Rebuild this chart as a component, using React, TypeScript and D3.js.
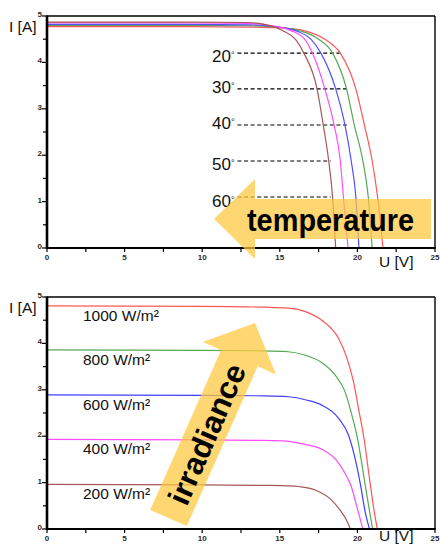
import React, { useEffect } from "react";
import * as d3 from "d3";

const W = 442;
const H = 545;

const xTicks = [0, 5, 10, 15, 20, 25];
const yTicks = [0, 1, 2, 3, 4, 5];

// ---- Top panel: temperature dependence ----
const tempLabels = ["20", "30", "40", "50", "60"];
const tempColors = ["#ff5555", "#55a855", "#5050ff", "#ff4cff", "#a65858"];
const temp20: [number, number][] = [[0, 4.77], [8, 4.77], [13, 4.76], [14.5, 4.75], [15.6, 4.73], [16.6, 4.68], [17.9, 4.5], [18.9, 4.2], [19.9, 3.43], [20.45, 2.65], [20.95, 1.88], [21.3, 1.1], [21.65, 0]];
const temp30: [number, number][] = [[0, 4.8], [8, 4.8], [13, 4.79], [14.5, 4.77], [15.4, 4.74], [16.3, 4.68], [17.5, 4.5], [18.4, 4.2], [19.3, 3.43], [19.8, 2.65], [20.35, 1.88], [20.7, 1.1], [20.95, 0]];
const temp40: [number, number][] = [[0, 4.82], [8, 4.82], [13, 4.81], [14.5, 4.78], [15.2, 4.75], [16.05, 4.68], [17.0, 4.5], [17.65, 4.2], [18.6, 3.43], [19.2, 2.65], [19.6, 1.88], [19.9, 1.1], [20.1, 0]];
const temp50: [number, number][] = [[0, 4.85], [8, 4.85], [13, 4.84], [14.3, 4.8], [15.0, 4.76], [15.75, 4.68], [16.6, 4.5], [17.1, 4.2], [17.9, 3.43], [18.5, 2.65], [18.9, 1.88], [19.1, 1.1], [19.4, 0]];
const temp60: [number, number][] = [[0, 4.87], [8, 4.87], [13, 4.86], [14.0, 4.82], [14.6, 4.77], [15.2, 4.68], [16.0, 4.5], [16.55, 4.2], [17.4, 3.43], [17.8, 2.65], [18.15, 1.88], [18.4, 1.1], [18.6, 0]];
const tempCurves = [temp20, temp30, temp40, temp50, temp60];
const tempDashI = [4.2, 3.43, 2.65, 1.875, 1.1];
const tempDashEndU = [18.86, 19.38, 19.32, 18.28, 18.28];
const tempDashStartU = 12.27;
const tempLabelI = [4.01, 3.34, 2.56, 1.68, 0.88];

// ---- Bottom panel: irradiance dependence ----
const irrLabels = ["1000 W/m²", "800 W/m²", "600 W/m²", "400 W/m²", "200 W/m²"];
const irrColors = ["#ff5555", "#55a855", "#4040ff", "#ff4cff", "#a65858"];
const irr1000: [number, number][] = [[0, 4.81], [10, 4.8], [14, 4.78], [15.55, 4.76], [16.7, 4.68], [17.7, 4.5], [18.78, 4.11], [19.3, 3.71], [19.75, 3.17], [20.07, 2.6], [20.45, 1.9], [20.75, 1.16], [21.05, 0.45], [21.28, 0]];
const irr800: [number, number][] = [[0, 3.86], [10, 3.85], [14, 3.84], [15.55, 3.82], [16.6, 3.75], [17.7, 3.59], [18.56, 3.32], [19.2, 2.96], [19.64, 2.46], [20.05, 1.88], [20.4, 1.16], [20.75, 0.45], [20.98, 0]];
const irr600: [number, number][] = [[0, 2.89], [10, 2.88], [14, 2.87], [15.55, 2.85], [16.7, 2.78], [17.7, 2.67], [18.78, 2.39], [19.42, 2.03], [19.85, 1.52], [20.2, 0.95], [20.5, 0.37], [20.78, 0]];
const irr400: [number, number][] = [[0, 1.93], [10, 1.92], [14, 1.91], [15.55, 1.89], [16.4, 1.84], [17.7, 1.72], [18.6, 1.5], [19.2, 1.2], [19.6, 0.92], [19.95, 0.5], [20.35, 0]];
const irr200: [number, number][] = [[0, 0.96], [10, 0.95], [14, 0.94], [15.55, 0.93], [16.3, 0.91], [17.35, 0.83], [18.25, 0.65], [18.9, 0.4], [19.3, 0.19], [19.55, 0]];
const irrCurves = [irr1000, irr800, irr600, irr400, irr200];

const FONT = "'Liberation Sans', Arial, Helvetica, sans-serif";
const ARROW_FILL = "#ffc83c";
const ARROW_OPACITY = 0.72;

function arrowPath(tail: [number, number], tip: [number, number], bodyHalf: number, headHalf: number, headLen: number) {
  const dx = tip[0] - tail[0];
  const dy = tip[1] - tail[1];
  const len = Math.hypot(dx, dy);
  const ux = dx / len, uy = dy / len;
  const px = -uy, py = ux;
  const bx = tip[0] - ux * headLen, by = tip[1] - uy * headLen;
  const pts: [number, number][] = [
    [tail[0] + px * bodyHalf, tail[1] + py * bodyHalf],
    [bx + px * bodyHalf, by + py * bodyHalf],
    [bx + px * headHalf, by + py * headHalf],
    tip,
    [bx - px * headHalf, by - py * headHalf],
    [bx - px * bodyHalf, by - py * bodyHalf],
    [tail[0] - px * bodyHalf, tail[1] - py * bodyHalf],
  ];
  return "M" + pts.map((p) => p[0].toFixed(1) + "," + p[1].toFixed(1)).join("L") + "Z";
}

function Frame({ x, y, uLabelDy }: { x: d3.ScaleLinear<number, number>; y: d3.ScaleLinear<number, number>; uLabelDy: number }) {
  const [x0, x1] = x.range();
  const [y0, y1] = y.range();
  const minorX = d3.range(2.5, 25, 5);
  const minorY = d3.range(0.5, 5, 1);
  return (
    <g>
      <line x1={x0} x2={x1} y1={y1} y2={y1} stroke="#000" strokeWidth={1.4} />
      <line x1={x1} x2={x1} y1={y1} y2={y0} stroke="#000" strokeWidth={1.4} />
      <line x1={x0} x2={x1 + 0.7} y1={y0} y2={y0} stroke="#000" strokeWidth={2.2} />
      <line x1={x0} x2={x0} y1={y1 - 0.5} y2={y0 + 1} stroke="#000" strokeWidth={2.6} />
      {yTicks.map((t) => (
        <g key={"yt" + t}>
          <line x1={x0 - 5} x2={x0} y1={y(t)} y2={y(t)} stroke="#000" strokeWidth={1.2} />
          <text x={x0 - 5} y={y(t) + 1} textAnchor="end" fontSize={8} fontWeight="bold" fill="#2a2a2a" fontFamily={FONT}>
            {t}
          </text>
        </g>
      ))}
      {minorY.map((t) => (
        <line key={"ym" + t} x1={x0 - 4} x2={x0} y1={y(t)} y2={y(t)} stroke="#000" strokeWidth={1.2} />
      ))}
      {xTicks.map((t) => (
        <g key={"xt" + t}>
          <line x1={x(t)} x2={x(t)} y1={y0} y2={y0 + 4} stroke="#000" strokeWidth={1.2} />
          <text x={x(t)} y={y0 + 12} textAnchor="middle" fontSize={8} fontWeight="bold" fill="#2a2a2a" fontFamily={FONT}>
            {t}
          </text>
        </g>
      ))}
      {minorX.map((t) => (
        <line key={"xm" + t} x1={x(t)} x2={x(t)} y1={y0} y2={y0 + 4} stroke="#000" strokeWidth={1.2} />
      ))}
      <text x={9} y={y1 + 16} fontSize={15.5} fill="#111" fontFamily={FONT}>I [A]</text>
      <text x={379} y={y0 + uLabelDy} fontSize={15.5} fill="#111" fontFamily={FONT}>U [V]</text>
    </g>
  );
}

export default function App() {
  useEffect(() => {
    document.body.style.margin = "0";
  }, []);

  const x = d3.scaleLinear().domain([0, 25]).range([47, 435]);
  const yTop = d3.scaleLinear().domain([0, 5]).range([248, 16]);
  const yBot = d3.scaleLinear().domain([0, 5]).range([529, 297]);

  const lineTop = d3.line<[number, number]>().x((d) => x(d[0])).y((d) => yTop(d[1])).curve(d3.curveMonotoneX);
  const lineBot = d3.line<[number, number]>().x((d) => x(d[0])).y((d) => yBot(d[1])).curve(d3.curveMonotoneX);

  return (
    <svg width={W} height={H} viewBox={`0 0 ${W} ${H}`} style={{ display: "block", position: "absolute", left: 0, top: 0, background: "#fff" }}>
      <rect width={W} height={H} fill="#fff" />

      {/* Top panel */}
      {tempLabels.map((lab, i) => (
        <g key={"td" + i}>
          <line x1={x(tempDashStartU)} x2={x(tempDashEndU[i])} y1={yTop(tempDashI[i])} y2={yTop(tempDashI[i])} stroke="#000" strokeWidth={1.1} strokeDasharray="4,2.6" />
          <text x={212} y={yTop(tempLabelI[i])} fontSize={17} fill="#111" fontFamily={FONT}>
            {lab}
            <tspan fontSize={9} dy={-4}>°</tspan>
          </text>
        </g>
      ))}
      {tempCurves.map((c, i) => (
        <path key={"tc" + i} d={lineTop(c) || ""} fill="none" stroke={tempColors[i]} strokeWidth={1.2} />
      ))}
      <Frame x={x} y={yTop} uLabelDy={19} />
      <path d={arrowPath([431, 219], [214, 219], 20, 40, 41)} fill={ARROW_FILL} opacity={ARROW_OPACITY} />
      <text x={247} y={231} fontSize={31} fontWeight="bold" fill="#000" fontFamily={FONT} textLength={167} lengthAdjust="spacingAndGlyphs">
        temperature
      </text>

      {/* Bottom panel */}
      {irrCurves.map((c, i) => (
        <path key={"ic" + i} d={lineBot(c) || ""} fill="none" stroke={irrColors[i]} strokeWidth={1.2} />
      ))}
      {irrLabels.map((lab, i) => (
        <text key={"il" + i} x={83} y={yBot(irrCurves[i][0][1]) + 15} fontSize={15.5} fill="#111" fontFamily={FONT}>
          {lab}
        </text>
      ))}
      <Frame x={x} y={yBot} uLabelDy={12} />
      <path d={arrowPath([168.5, 518], [255, 323], 20, 40, 38.5)} fill={ARROW_FILL} opacity={ARROW_OPACITY} />
      <text
        transform="translate(206.5,434) rotate(-66.4)"
        textAnchor="middle"
        dy="0.36em"
        fontSize={31}
        fontWeight="bold"
        fill="#000"
        fontFamily={FONT}
        textLength={150}
        lengthAdjust="spacingAndGlyphs"
      >
        irradiance
      </text>
    </svg>
  );
}
